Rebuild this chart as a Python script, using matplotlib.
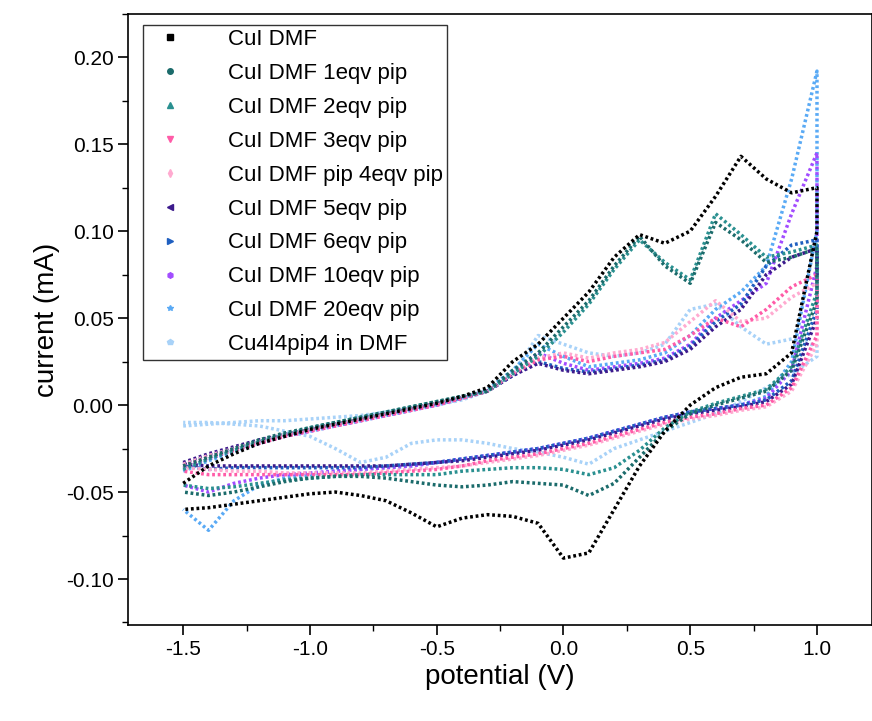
import matplotlib.pyplot as plt
import numpy as np

# potential grid (V), forward scan then reverse scan
v_fwd = np.round(np.arange(-1.5, 1.01, 0.1), 2)
v_rev = v_fwd[::-1]

labels = ['CuI DMF', 'CuI DMF 1eqv pip', 'CuI DMF 2eqv pip', 'CuI DMF 3eqv pip',
          'CuI DMF pip 4eqv pip', 'CuI DMF 5eqv pip', 'CuI DMF 6eqv pip',
          'CuI DMF 10eqv pip', 'CuI DMF 20eqv pip', 'Cu4I4pip4 in DMF']
colors = ['#000000', '#1b6b6b', '#2a9090', '#ff5ca8', '#ffaad0',
          '#3c1a8c', '#1f5fc0', '#a24cff', '#5aaaf5', '#a8d2f8']
markers = ['s', 'o', '^', 'v', 'd', '<', '>', 'h', '*', 'p']

# forward (upper) branches, -1.5 -> 1.0 V
up_cui = [-0.045, -0.035, -0.028, -0.022, -0.018, -0.014, -0.011, -0.008, -0.005, -0.002,
          0.001, 0.005, 0.010, 0.025, 0.035, 0.050, 0.065, 0.085, 0.098, 0.093,
          0.100, 0.120, 0.143, 0.130, 0.122, 0.125]
up_1 = [-0.035, -0.030, -0.025, -0.020, -0.016, -0.013, -0.010, -0.007, -0.004, -0.001,
        0.002, 0.005, 0.008, 0.020, 0.030, 0.045, 0.060, 0.080, 0.097, 0.080,
        0.070, 0.105, 0.095, 0.082, 0.085, 0.090]
up_2 = [-0.037, -0.031, -0.026, -0.021, -0.017, -0.013, -0.010, -0.007, -0.004, -0.001,
        0.002, 0.005, 0.008, 0.018, 0.028, 0.042, 0.058, 0.078, 0.095, 0.082,
        0.072, 0.110, 0.098, 0.085, 0.088, 0.092]
up_3 = [-0.035, -0.030, -0.026, -0.022, -0.018, -0.015, -0.012, -0.009, -0.006, -0.003,
        0.000, 0.004, 0.008, 0.018, 0.026, 0.028, 0.025, 0.028, 0.030, 0.032,
        0.040, 0.050, 0.045, 0.055, 0.068, 0.075]
up_4 = [-0.034, -0.029, -0.025, -0.021, -0.017, -0.014, -0.011, -0.008, -0.005, -0.002,
        0.001, 0.004, 0.008, 0.018, 0.027, 0.030, 0.027, 0.030, 0.032, 0.036,
        0.048, 0.060, 0.048, 0.050, 0.062, 0.070]
up_5 = [-0.033, -0.028, -0.024, -0.020, -0.017, -0.014, -0.011, -0.008, -0.005, -0.002,
        0.001, 0.004, 0.008, 0.017, 0.024, 0.020, 0.018, 0.020, 0.022, 0.025,
        0.032, 0.045, 0.055, 0.075, 0.085, 0.090]
up_6 = [-0.034, -0.029, -0.025, -0.021, -0.017, -0.014, -0.011, -0.008, -0.005, -0.002,
        0.001, 0.004, 0.008, 0.017, 0.025, 0.021, 0.019, 0.021, 0.023, 0.026,
        0.034, 0.048, 0.058, 0.080, 0.092, 0.095]
up_10 = [-0.036, -0.031, -0.026, -0.022, -0.018, -0.015, -0.012, -0.009, -0.006, -0.003,
         0.000, 0.004, 0.008, 0.018, 0.030, 0.024, 0.020, 0.022, 0.024, 0.027,
         0.035, 0.050, 0.060, 0.070, 0.110, 0.145]
up_20 = [-0.038, -0.032, -0.027, -0.022, -0.018, -0.015, -0.012, -0.009, -0.006, -0.003,
         0.000, 0.004, 0.009, 0.020, 0.035, 0.028, 0.022, 0.024, 0.026, 0.030,
         0.040, 0.055, 0.065, 0.080, 0.130, 0.192]
up_cu4 = [-0.012, -0.011, -0.010, -0.009, -0.009, -0.008, -0.007, -0.006, -0.004, -0.002,
          0.000, 0.003, 0.008, 0.018, 0.040, 0.035, 0.030, 0.028, 0.030, 0.035,
          0.055, 0.058, 0.045, 0.035, 0.038, 0.034]

# reverse (lower) branches, 1.0 -> -1.5 V
dn_cui = [0.100, 0.030, 0.018, 0.016, 0.010, 0.000, -0.015, -0.035, -0.060, -0.085,
          -0.088, -0.068, -0.064, -0.063, -0.065, -0.070, -0.062, -0.055, -0.052, -0.050,
          -0.051, -0.053, -0.055, -0.057, -0.059, -0.060]
dn_1 = [0.060, 0.020, 0.008, 0.004, 0.000, -0.005, -0.015, -0.030, -0.045, -0.052,
        -0.046, -0.045, -0.044, -0.046, -0.047, -0.046, -0.044, -0.042, -0.041, -0.041,
        -0.042, -0.044, -0.047, -0.050, -0.052, -0.050]
dn_2 = [0.065, 0.022, 0.009, 0.005, 0.001, -0.004, -0.013, -0.026, -0.036, -0.040,
        -0.037, -0.036, -0.036, -0.037, -0.038, -0.040, -0.040, -0.040, -0.040, -0.041,
        -0.042, -0.043, -0.045, -0.047, -0.048, -0.046]
dn_3 = [0.040, 0.010, 0.000, -0.002, -0.005, -0.007, -0.010, -0.014, -0.018, -0.022,
        -0.025, -0.028, -0.030, -0.032, -0.035, -0.037, -0.038, -0.039, -0.040, -0.040,
        -0.040, -0.040, -0.040, -0.040, -0.040, -0.038]
dn_4 = [0.035, 0.008, -0.001, -0.003, -0.006, -0.008, -0.011, -0.015, -0.019, -0.023,
        -0.026, -0.029, -0.031, -0.033, -0.035, -0.036, -0.037, -0.038, -0.039, -0.039,
        -0.039, -0.039, -0.038, -0.038, -0.037, -0.036]
dn_5 = [0.050, 0.012, 0.002, -0.001, -0.003, -0.005, -0.008, -0.012, -0.016, -0.020,
        -0.023, -0.026, -0.028, -0.030, -0.032, -0.033, -0.034, -0.035, -0.035, -0.035,
        -0.035, -0.035, -0.035, -0.035, -0.035, -0.034]
dn_6 = [0.055, 0.014, 0.003, 0.000, -0.002, -0.004, -0.007, -0.011, -0.015, -0.019,
        -0.022, -0.025, -0.027, -0.029, -0.031, -0.033, -0.034, -0.035, -0.036, -0.036,
        -0.036, -0.036, -0.036, -0.036, -0.037, -0.035]
dn_10 = [0.080, 0.020, 0.004, 0.000, -0.002, -0.004, -0.007, -0.011, -0.015, -0.019,
         -0.022, -0.025, -0.027, -0.029, -0.031, -0.033, -0.035, -0.036, -0.037, -0.038,
         -0.039, -0.040, -0.042, -0.045, -0.050, -0.046]
dn_20 = [0.100, 0.025, 0.005, 0.000, -0.002, -0.004, -0.007, -0.011, -0.015, -0.019,
         -0.022, -0.025, -0.027, -0.029, -0.031, -0.033, -0.035, -0.036, -0.037, -0.038,
         -0.040, -0.042, -0.046, -0.055, -0.072, -0.060]
dn_cu4 = [0.028, 0.018, 0.010, 0.002, -0.005, -0.010, -0.015, -0.020, -0.025, -0.034,
          -0.030, -0.027, -0.025, -0.022, -0.020, -0.020, -0.022, -0.030, -0.033, -0.025,
          -0.018, -0.015, -0.012, -0.011, -0.010, -0.010]

ups = [up_cui, up_1, up_2, up_3, up_4, up_5, up_6, up_10, up_20, up_cu4]
dns = [dn_cui, dn_1, dn_2, dn_3, dn_4, dn_5, dn_6, dn_10, dn_20, dn_cu4]

plt.rcParams['font.family'] = ['Arial', 'Liberation Sans', 'DejaVu Sans']
fig = plt.figure(figsize=(8.72, 7.21), dpi=100)
ax = fig.add_axes([0.147, 0.133, 0.853, 0.848])

order = [9, 8, 7, 6, 5, 4, 3, 2, 1, 0]
for i in order:
    x = np.concatenate([v_fwd, v_rev])
    y = np.concatenate([ups[i], dns[i]])
    ax.plot(x, y, color=colors[i], linestyle=(0, (0.8, 0.8)), lw=2.5)
handles = [plt.Line2D([], [], color=colors[i], marker=markers[i], linestyle='none',
                      markersize=4, label=labels[i]) for i in range(10)]
leg = ax.legend(handles=handles, loc='upper left', bbox_to_anchor=(0.02, 0.982),
                fontsize=16, frameon=True, fancybox=False, edgecolor='black',
                handletextpad=1.6, labelspacing=0.58, borderaxespad=0,
                borderpad=0.2)
leg.get_frame().set_linewidth(1.0)

ax.set_xlim(-1.717, 1.217)
ax.set_ylim(-0.1265, 0.225)
ax.set_xticks([-1.5, -1.0, -0.5, 0.0, 0.5, 1.0])
ax.set_xticks(np.arange(-1.5, 1.01, 0.25), minor=True)
ax.set_yticks([-0.10, -0.05, 0.0, 0.05, 0.10, 0.15, 0.20])
ax.set_yticks(np.arange(-0.125, 0.226, 0.025), minor=True)
ax.yaxis.set_major_formatter(plt.FormatStrFormatter('%.2f'))
ax.xaxis.set_major_formatter(plt.FormatStrFormatter('%.1f'))
ax.tick_params(which='major', direction='out', length=7, width=1.2, labelsize=15)
ax.tick_params(which='minor', direction='out', length=4, width=1.0)
for s in ax.spines.values():
    s.set_linewidth(1.2)
ax.set_xlabel('potential (V)', fontsize=20)
ax.set_ylabel('current (mA)', fontsize=20)
fig.savefig('out.png', dpi=100)
